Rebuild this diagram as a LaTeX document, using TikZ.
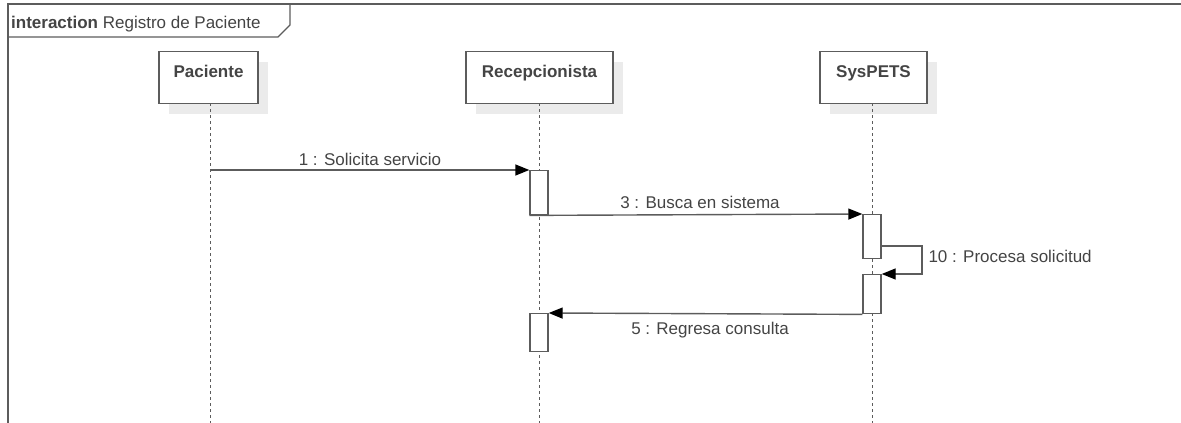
\documentclass[tikz,border=0pt]{standalone}
\usepackage{fontspec}
\setmainfont{Liberation Sans}
\usetikzlibrary{arrows.meta}
\definecolor{ln}{HTML}{5C5C5C}
\definecolor{tx}{HTML}{444444}
\definecolor{sh}{HTML}{EBEBEB}
\begin{document}
\begin{tikzpicture}[x=1pt,y=-1pt,
  head/.style={draw=ln, line width=1.4pt, fill=white, rectangle, inner sep=0pt,
    minimum height=52pt, anchor=north,
    preaction={fill=sh, transform canvas={xshift=10pt,yshift=-10pt}}},
  headtext/.style={font=\bfseries\fontsize{17}{20}\selectfont, text=tx},
  act/.style={draw=ln, line width=1.4pt, fill=white, rectangle, inner sep=0pt,
    minimum width=18pt, anchor=north},
  life/.style={draw=ln, line width=1pt, dash pattern=on 3pt off 3pt},
  msg/.style={draw=ln, line width=1.4pt, -{Triangle[length=14pt,width=11pt,color=black]}},
  lbl/.style={font=\fontsize{17}{20}\selectfont, text=tx},
  frame/.style={draw=ln, line width=1.4pt}]
\useasboundingbox (0,0) rectangle (1181,423);
% frame
\draw[frame] (8,423) -- (8,4) -- (1181,4);
\draw[frame] (8,37) -- (278,37) -- (290,25) -- (290,4);
\node[anchor=base west, inner sep=0pt, lbl] (title) at (11,28) {\textbf{interaction} Registro de Paciente};
% heads
\node[head, minimum width=99pt,
  label={[headtext, anchor=base, yshift=-26pt]north:Paciente}] (pac) at (208.5,51) {};
\node[head, minimum width=147pt,
  label={[headtext, anchor=base, yshift=-26pt]north:Recepcionista}] (rec) at (539.5,51) {};
\node[head, minimum width=107pt,
  label={[headtext, anchor=base, yshift=-26pt]north:SysPETS}] (sys) at (873.5,51) {};
% lifelines
\coordinate (pacE) at (210,423);
\coordinate (recE) at (539,423);
\coordinate (sysE) at (872,423);
\draw[life] (210,103) -- (pacE);
\draw[life] (539,103) -- (recE);
\draw[life] (872,103) -- (sysE);
% activations
\node[act, minimum height=44pt] (r1) at (539,170) {};
\node[act, minimum height=44pt] (s1) at (872,214) {};
\node[act, minimum height=39pt] (s2) at (872,274) {};
\node[act, minimum height=38pt] (r2) at (539,313) {};
% messages
\coordinate (m1s) at (210,170);
\draw[msg] (m1s) -- (r1.north west);
\node[lbl, anchor=base] at (370,165) {1 : Solicita servicio};
\draw[msg] (r1.south west) -- (s1.north west);
\node[lbl, anchor=base] at (700,208) {3 : Busca en sistema};
\coordinate (loopA) at (922,246);
\coordinate (loopB) at (922,274);
\draw[msg] (s1.east |- loopA) -- (loopA) -- (loopB) -- (s2.north east);
\node[lbl, anchor=base west] at (925,262) {10 : Procesa solicitud};
\draw[msg] (s2.south west) -- (r2.north east);
\node[lbl, anchor=base] at (710,334) {5 : Regresa consulta};
\end{tikzpicture}
\end{document}
